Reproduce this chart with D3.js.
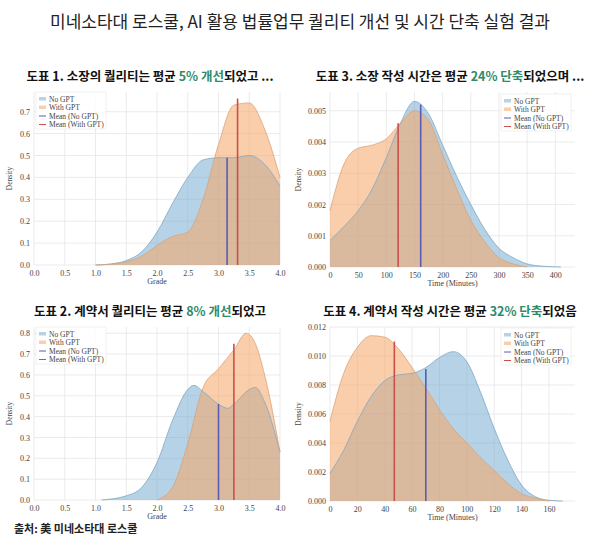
<!DOCTYPE html>
<html>
<head>
<meta charset="utf-8" />
<script src="https://cdn.jsdelivr.net/npm/d3@7"></script>
<style>
  body { margin:0; background:#fff; }
  text { font-family: "Noto Sans CJK KR", sans-serif; }
  .tick text, .lab { font-family: "Liberation Serif", serif; fill:#444; }
</style>
</head>
<body>
<svg id="chart" width="600" height="546"></svg>
<script>
// panel 1: complaint quality (grade)
var p1X = [1.0,1.25,1.5,1.75,2.0,2.25,2.5,2.75,3.0,3.25,3.5,3.75,4.0];
var p1No = [0,0.005,0.02,0.06,0.15,0.28,0.40,0.48,0.49,0.49,0.50,0.46,0.36];
var p1With = [0,0.003,0.015,0.04,0.09,0.13,0.15,0.30,0.55,0.73,0.74,0.62,0.40];
var p1Mean = [[3.14,0.49],[3.31,0.76]];
// panel 2: contract quality (grade)
var p2NoX = [1.1,1.5,1.75,2.0,2.25,2.5,2.6,2.75,3.0,3.15,3.25,3.5,3.6,3.75,4.0];
var p2No = [0,0.02,0.06,0.18,0.38,0.53,0.55,0.52,0.46,0.44,0.46,0.53,0.54,0.47,0.23];
var p2WithX = [2.0,2.25,2.5,2.75,3.0,3.25,3.45,3.6,3.75,4.0];
var p2With = [0,0.06,0.27,0.54,0.63,0.72,0.80,0.75,0.60,0.23];
var p2Mean = [[3.0,0.46],[3.25,0.75]];
// panel 3: complaint time (minutes)
var p3NoX = [0,25,50,75,100,125,150,175,200,225,250,275,300,325,350,375,410];
var p3No = [0.00085,0.0013,0.0018,0.0025,0.0035,0.0046,0.0053,0.0049,0.0039,0.0029,0.0020,0.0012,0.0006,0.0003,0.0001,0.00003,0];
var p3WithX = [0,25,50,75,100,125,150,175,200,225,250,275,300,325,350];
var p3With = [0.0018,0.0033,0.0038,0.0039,0.0041,0.0046,0.0050,0.0047,0.0036,0.0025,0.0015,0.0008,0.0003,0.0001,0];
var p3Mean = [[161,0.0052],[121,0.0046]];
// panel 4: contract time (minutes)
var p4NoX = [0,10,20,30,40,50,60,70,80,90,100,110,120,130,140,150,160,170];
var p4No = [0.0019,0.0035,0.0055,0.0072,0.0083,0.0087,0.0088,0.0092,0.0099,0.0103,0.0096,0.0075,0.005,0.0028,0.0011,0.0003,0.00005,0];
var p4WithX = [0,10,20,30,40,50,60,70,80,90,100,110,120,130,140,150,160];
var p4With = [0.0055,0.0088,0.0106,0.0114,0.0113,0.0105,0.0092,0.0078,0.0063,0.0050,0.0040,0.0030,0.0021,0.0012,0.0005,0.0002,0];
var p4Mean = [[70,0.0091],[47,0.011]];

var legendLabels = ["No GPT","With GPT","Mean (No GPT)","Mean (With GPT)"];

var svg = d3.select("#chart");
var BLUE = "rgba(110,165,205,0.5)", ORANGE = "rgba(245,165,100,0.55)";
var MBLUE = "#5b5bb5", MRED = "#c9504a";

svg.append("text").attr("x",300).attr("y",28).attr("text-anchor","middle")
  .attr("font-size",17).attr("fill","#222")
  .text("미네소타대 로스쿨, AI 활용 법률업무 퀄리티 개선 및 시간 단축 실험 결과");

function title(x, y, pre, hi, post) {
  var t = svg.append("text").attr("x",x).attr("y",y).attr("text-anchor","middle")
    .attr("font-size",12.5).attr("font-weight","bold").attr("fill","#111");
  t.append("tspan").text(pre);
  t.append("tspan").attr("fill","#2e8b6b").text(hi);
  t.append("tspan").text(post);
}
title(150,81,"도표 1. 소장의 퀄리티는 평균 ","5% 개선","되었고 ...");
title(450,81,"도표 3. 소장 작성 시간은 평균 ","24% 단축","되었으며 ...");
title(150,316,"도표 2. 계약서 퀄리티는 평균 ","8% 개선","되었고");
title(450,316,"도표 4. 계약서 작성 시간은 평균 ","32% 단축","되었음");
svg.append("text").attr("x",14).attr("y",533).attr("font-size",11)
  .attr("font-weight","bold").attr("fill","#222").text("출처: 美 미네소타대 로스쿨");

function panel(o) {
  var x = d3.scaleLinear().domain(o.xd).range([o.x0, o.x1]);
  var y = d3.scaleLinear().domain(o.yd).range([o.y0, o.y1]);
  var g = svg.append("g");
  // grid
  g.selectAll(".gx").data(o.xt).join("line").attr("x1",d=>x(d)).attr("x2",d=>x(d))
    .attr("y1",o.y0).attr("y2",o.y1).attr("stroke","#e6e6ea").attr("stroke-width",0.8);
  g.selectAll(".gy").data(o.yt).join("line").attr("y1",d=>y(d)).attr("y2",d=>y(d))
    .attr("x1",o.x0).attr("x2",o.x1).attr("stroke","#e6e6ea").attr("stroke-width",0.8);
  var area = function(xs, ys) {
    return d3.area().x(function(d,i){return x(xs[i]);}).y0(y(0)).y1(function(d){return y(d);})
      .curve(d3.curveMonotoneX)(ys);
  };
  var line = function(xs, ys) {
    return d3.line().x(function(d,i){return x(xs[i]);}).y(function(d){return y(d);})
      .curve(d3.curveMonotoneX)(ys);
  };
  g.append("path").attr("d",area(o.noX,o.no)).attr("fill",BLUE);
  g.append("path").attr("d",area(o.withX,o.with)).attr("fill",ORANGE);
  g.append("path").attr("d",line(o.noX,o.no)).attr("fill","none").attr("stroke","#7fa7c4").attr("stroke-width",0.8);
  g.append("path").attr("d",line(o.withX,o.with)).attr("fill","none").attr("stroke","#d8a27a").attr("stroke-width",0.8);
  g.append("line").attr("x1",x(o.mean[0][0])).attr("x2",x(o.mean[0][0])).attr("y1",y(0)).attr("y2",y(o.mean[0][1]))
    .attr("stroke",MBLUE).attr("stroke-width",1.6);
  g.append("line").attr("x1",x(o.mean[1][0])).attr("x2",x(o.mean[1][0])).attr("y1",y(0)).attr("y2",y(o.mean[1][1]))
    .attr("stroke",MRED).attr("stroke-width",1.6);
  // axes
  var ax = g.append("g").attr("transform","translate(0,"+o.y0+")")
    .call(d3.axisBottom(x).tickValues(o.xt).tickSize(0).tickPadding(5).tickFormat(o.xf));
  var ay = g.append("g").attr("transform","translate("+o.x0+",0)")
    .call(d3.axisLeft(y).tickValues(o.yt).tickSize(0).tickPadding(4).tickFormat(o.yf));
  [ax,ay].forEach(function(a){ a.select(".domain").remove(); a.selectAll("text").attr("font-size",8); });
  g.append("text").attr("class","lab").attr("x",(o.x0+o.x1)/2).attr("y",o.y0+19)
    .attr("text-anchor","middle").attr("font-size",8).text(o.xl);
  g.append("text").attr("class","lab").attr("transform","translate("+(o.x0-o.yoff)+","+((o.y0+o.y1)/2)+") rotate(-90)")
    .attr("text-anchor","middle").attr("font-size",7.5).text("Density");
  // legend
  var lg = g.append("g").attr("transform","translate("+o.lx+","+o.ly+")");
  lg.append("rect").attr("width",70).attr("height",37).attr("fill","rgba(255,255,255,0.85)")
    .attr("stroke","#e2e2e2").attr("stroke-width",0.5);
  var cols = [BLUE, ORANGE, MBLUE, MRED];
  legendLabels.forEach(function(l,i){
    var yy = 7 + i*8.5;
    if (i < 2) lg.append("rect").attr("x",3).attr("y",yy-2).attr("width",7).attr("height",3.5).attr("fill",cols[i]);
    else lg.append("line").attr("x1",3).attr("x2",10).attr("y1",yy).attr("y2",yy).attr("stroke",cols[i]).attr("stroke-width",1);
    lg.append("text").attr("class","lab").attr("x",13).attr("y",yy+2.5).attr("font-size",7.5).text(l);
  });
}

var gradeTicks = [0,0.5,1.0,1.5,2.0,2.5,3.0,3.5,4.0];
panel({x0:34,x1:280,y0:265,y1:92,xd:[0,4],yd:[0,0.79],xt:gradeTicks,yt:[0,0.1,0.2,0.3,0.4,0.5,0.6,0.7],
  xf:d3.format(".1f"),yf:d3.format(".1f"),xl:"Grade",yoff:22,
  noX:p1X,no:p1No,withX:p1X,with:p1With,mean:p1Mean,lx:36,ly:92});
panel({x0:34,x1:280,y0:500,y1:327,xd:[0,4],yd:[0,0.83],xt:gradeTicks,yt:[0,0.1,0.2,0.3,0.4,0.5,0.6,0.7,0.8],
  xf:d3.format(".1f"),yf:d3.format(".1f"),xl:"Grade",yoff:22,
  noX:p2NoX,no:p2No,withX:p2WithX,with:p2With,mean:p2Mean,lx:36,ly:327});
panel({x0:330,x1:575,y0:267,y1:92,xd:[0,435],yd:[0,0.0056],xt:[0,50,100,150,200,250,300,350,400],yt:[0,0.001,0.002,0.003,0.004,0.005],
  xf:d3.format("d"),yf:d3.format(".3f"),xl:"Time (Minutes)",yoff:29,
  noX:p3NoX,no:p3No,withX:p3WithX,with:p3With,mean:p3Mean,lx:501,ly:94});
panel({x0:330,x1:575,y0:501,y1:327,xd:[0,179],yd:[0,0.012],xt:[0,20,40,60,80,100,120,140,160],yt:[0,0.002,0.004,0.006,0.008,0.010,0.012],
  xf:d3.format("d"),yf:d3.format(".3f"),xl:"Time (Minutes)",yoff:29,
  noX:p4NoX,no:p4No,withX:p4WithX,with:p4With,mean:p4Mean,lx:501,ly:328});
</script>
</body>
</html>
